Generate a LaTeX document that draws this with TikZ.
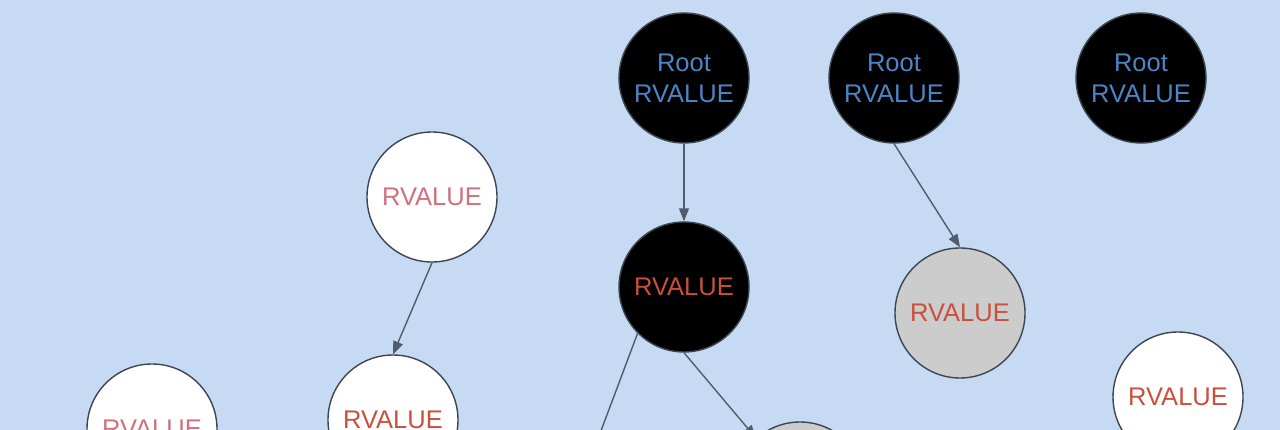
\documentclass[tikz,border=0pt]{standalone}
\usepackage{fontspec}
\setmainfont{Liberation Sans}
\usetikzlibrary{arrows.meta}
\definecolor{bg}{HTML}{C6DAF3}
\definecolor{bluetxt}{HTML}{4A86C6}
\definecolor{redtxt}{HTML}{C9503C}
\definecolor{pinktxt}{HTML}{D0707A}
\definecolor{edgec}{HTML}{505C6C}
\definecolor{rim}{HTML}{3E4652}
\definecolor{grayfill}{HTML}{CCCCCC}
\begin{document}
\begin{tikzpicture}[x=1pt,y=-1pt,
  circ/.style={circle,draw=rim,line width=1.4pt,minimum size=130pt,inner sep=0pt,align=center,
    font=\fontsize{25.5}{31}\selectfont},
  rootn/.style={circ,fill=black,text=bluetxt},
  blackn/.style={circ,fill=black,text=redtxt},
  whiten/.style={circ,fill=white,text=redtxt},
  pinkn/.style={circ,fill=white,text=pinktxt},
  grayn/.style={circ,fill=grayfill,text=redtxt},
  conn/.style={draw=edgec,line width=1.4pt,-{Triangle[length=13pt,width=10pt]}},
  plain/.style={draw=edgec,line width=1.4pt}]
\fill[bg] (0,0) rectangle (1280,430);
\useasboundingbox (0,0) rectangle (1280,430);
\node[rootn] (r1) at (684,78) {Root\\RVALUE};
\node[rootn] (r2) at (894,78) {Root\\RVALUE};
\node[rootn] (r3) at (1141,78) {Root\\RVALUE};
\node[pinkn] (w4) at (432,197) {RVALUE};
\node[blackn] (b5) at (684,287) {RVALUE};
\node[grayn] (g6) at (960,313) {RVALUE};
\node[whiten] (w7) at (1178,397) {RVALUE};
\node[whiten] (w8) at (393,420) {RVALUE};
\node[pinkn] (w9) at (152,429) {RVALUE};
\node[grayn] (g10) at (800,487) {};
\coordinate (off) at (560,540);
\draw[conn] (r1.south) -- (b5.north);
\draw[conn] (r2.south) -- (g6.north);
\draw[conn] (w4.south) -- (w8.north);
\draw[conn] (b5.south) -- (g10.132);
\draw[plain] (b5.225) -- (off);
\end{tikzpicture}
\end{document}
